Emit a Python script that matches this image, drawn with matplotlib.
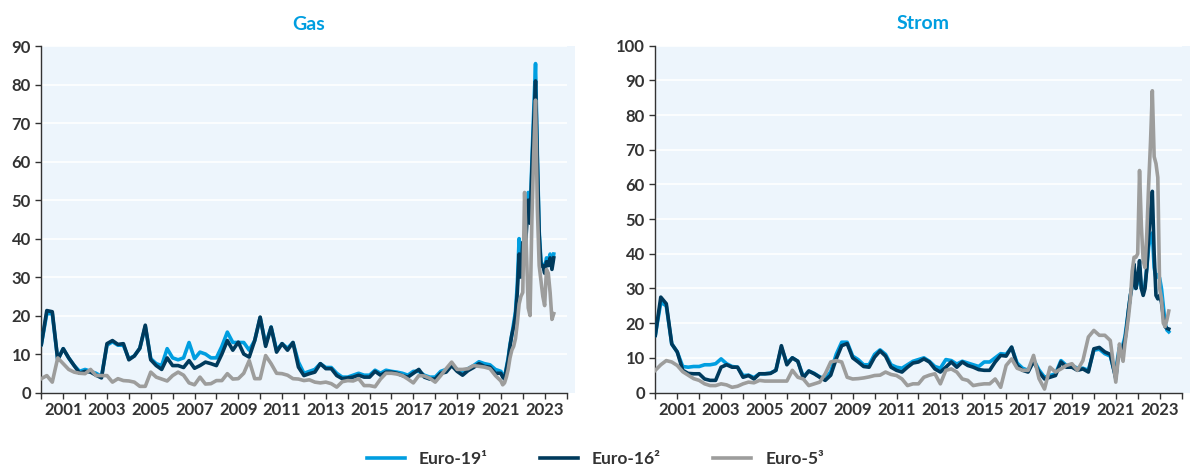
import matplotlib.pyplot as plt

# quarterly points 2000-2020, monthly from Jan 2021 to Jun 2023
quarters = [2000 + i * 0.25 for i in range(84)]
months = [2021 + i / 12 for i in range(30)]
dates = quarters + months

gas_euro19 = [12.5, 20.5, 20.5, 8.5, 11.4, 9.0, 7.0, 5.5, 6.0, 5.5, 5.0, 4.2,
              12.3, 13.2, 12.3, 12.3, 8.8, 9.5, 11.5, 17.2, 8.8, 7.5, 7.0, 11.4,
              9.0, 8.5, 9.0, 13.0, 8.8, 10.5, 10.0, 9.0, 9.0, 12.0, 15.7, 13.0,
              13.0, 13.0, 11.0, 13.5, 19.5, 12.5, 17.0, 11.0, 12.7, 11.5, 13.0, 7.9,
              5.0, 5.5, 6.0, 7.5, 6.5, 6.5, 5.0, 4.0, 4.0, 4.5, 5.0, 4.5,
              4.5, 5.8, 5.0, 5.8, 5.5, 5.3, 5.0, 4.5, 5.5, 5.5, 4.5, 4.0,
              4.0, 5.5, 6.0, 7.2, 6.0, 5.5, 6.2, 7.0, 8.0, 7.5, 7.2, 6.0,
              5.5, 4.5, 4.0, 6.5, 9.0, 12.5, 15.0, 18.0, 21.0, 28.0, 40.0, 33.0,
              39.0, 38.0, 45.0, 52.0, 45.0, 60.0, 73.0, 85.5, 62.0, 42.0, 34.0, 33.0,
              32.0, 35.0, 34.0, 36.0, 33.0, 36.0]
gas_euro16 = [12.5, 21.3, 21.0, 8.5, 11.4, 9.0, 7.0, 5.0, 5.5, 5.3, 4.5, 3.8,
              12.7, 13.5, 12.5, 12.7, 8.5, 9.5, 11.5, 17.5, 8.5, 7.0, 6.0, 9.0,
              7.0, 7.0, 6.5, 8.3, 6.3, 7.0, 7.9, 7.5, 7.0, 10.0, 13.5, 11.0,
              13.1, 10.0, 9.2, 13.5, 19.6, 12.0, 17.0, 10.5, 12.7, 11.0, 13.0, 6.6,
              4.4, 4.9, 5.3, 7.5, 6.2, 6.2, 4.4, 3.6, 3.8, 4.0, 4.5, 4.0,
              4.0, 5.5, 4.5, 5.3, 5.3, 5.0, 4.4, 4.0, 5.0, 6.0, 4.0, 3.5,
              3.5, 5.0, 5.3, 7.0, 5.5, 4.5, 5.7, 6.5, 7.5, 6.8, 6.6, 5.0,
              5.0, 4.0, 3.5, 6.0, 8.5, 12.0, 15.0, 17.0, 20.0, 26.0, 36.0, 30.0,
              39.0, 35.0, 42.0, 50.0, 44.0, 58.0, 70.0, 81.0, 60.0, 41.0, 33.0, 33.0,
              31.0, 34.0, 33.0, 35.0, 32.0, 35.0]
gas_euro5 = [3.6, 4.4, 2.7, 9.0, 7.5, 6.0, 5.3, 5.0, 4.9, 6.0, 4.4, 4.4,
             4.4, 2.7, 3.6, 3.1, 3.0, 2.7, 1.6, 1.6, 5.3, 4.0, 3.5, 3.0,
             4.4, 5.3, 4.5, 2.5, 2.0, 4.0, 2.2, 2.3, 3.1, 3.1, 4.9, 3.5,
             3.6, 5.0, 8.3, 3.6, 3.6, 9.6, 7.5, 5.0, 4.9, 4.5, 3.6, 3.5,
             3.1, 3.3, 2.7, 2.5, 2.7, 2.3, 1.4, 2.8, 3.1, 3.0, 3.6, 1.8,
             1.8, 1.5, 3.5, 5.0, 5.0, 4.8, 4.4, 3.5, 2.5, 4.4, 4.3, 3.7,
             2.7, 4.4, 6.2, 7.9, 6.0, 6.0, 6.2, 7.0, 6.8, 6.6, 6.2, 4.4,
             3.0, 2.0, 2.5, 4.0, 6.0, 9.0, 11.0, 12.0, 14.0, 18.0, 23.0, 25.0,
             26.0, 52.0, 37.0, 22.0, 20.0, 45.0, 62.0, 76.0, 48.0, 33.0, 29.0, 25.0,
             22.6, 32.0, 31.0, 26.0, 19.0, 20.5]

strom_euro19 = [16.5, 26.0, 25.0, 14.0, 11.7, 7.5, 7.3, 7.5, 7.5, 8.0, 8.0, 8.3,
                9.7, 8.3, 7.5, 7.3, 4.9, 5.0, 4.3, 5.4, 5.4, 5.6, 6.4, 13.0,
                8.5, 10.0, 9.0, 4.5, 6.2, 5.5, 4.5, 4.0, 6.0, 11.0, 14.5, 14.5,
                10.5, 9.5, 8.0, 8.0, 11.0, 12.3, 11.0, 8.0, 7.3, 7.0, 8.0, 9.0,
                9.5, 10.0, 9.0, 7.5, 7.0, 9.5, 9.2, 8.2, 9.0, 8.5, 8.0, 7.5,
                8.8, 8.8, 10.0, 11.2, 11.0, 13.0, 8.5, 7.0, 6.4, 9.5, 6.5, 4.4,
                4.9, 5.4, 9.2, 7.8, 7.8, 7.0, 7.0, 6.4, 12.2, 12.5, 11.2, 10.5,
                4.5, 10.0, 13.0, 12.0, 14.0, 16.0, 20.0, 24.0, 28.0, 31.0, 34.0, 30.0,
                32.0, 36.0, 30.0, 29.0, 31.0, 36.0, 42.0, 45.0, 46.0, 36.0, 33.0, 34.0,
                33.0, 30.0, 25.0, 20.0, 18.0, 17.5]
strom_euro16 = [16.5, 27.5, 25.6, 14.0, 11.7, 6.4, 5.5, 5.4, 5.4, 3.9, 3.5, 3.5,
                7.3, 8.0, 7.3, 7.3, 4.4, 4.9, 3.9, 5.4, 5.4, 5.5, 6.4, 13.5,
                8.0, 10.0, 9.0, 4.2, 6.2, 5.4, 4.4, 3.5, 5.0, 9.7, 13.5, 14.1,
                10.0, 8.8, 7.5, 7.3, 10.2, 12.0, 10.5, 7.3, 6.4, 5.9, 7.3, 8.5,
                8.8, 9.7, 8.8, 6.8, 5.9, 7.3, 8.8, 7.3, 8.8, 7.8, 7.3, 6.6,
                6.4, 6.4, 8.8, 10.7, 10.5, 13.1, 7.8, 6.4, 5.9, 9.0, 5.9, 3.9,
                4.4, 4.9, 8.8, 7.3, 7.3, 6.4, 6.8, 5.9, 12.6, 13.0, 11.7, 11.0,
                4.0, 9.0, 12.0, 11.0, 13.0, 15.0, 19.0, 24.0, 28.0, 31.0, 37.0, 30.0,
                33.0, 38.0, 30.0, 28.0, 30.0, 36.0, 45.0, 52.0, 58.0, 40.0, 28.0, 27.0,
                28.0, 26.0, 22.0, 19.0, 18.5, 18.3]
strom_euro5 = [6.4, 8.0, 9.2, 8.8, 7.8, 6.0, 5.0, 4.0, 3.5, 2.5, 2.0, 2.0,
               2.5, 2.2, 1.5, 1.8, 2.5, 3.0, 2.8, 3.5, 3.3, 3.3, 3.3, 3.3,
               3.3, 6.4, 4.4, 3.9, 2.0, 2.5, 3.0, 5.4, 8.8, 9.2, 8.8, 4.4,
               3.9, 4.0, 4.2, 4.5, 4.9, 5.0, 5.9, 5.2, 4.9, 3.9, 2.0, 2.5,
               2.5, 4.4, 5.0, 5.4, 2.5, 6.4, 6.8, 5.9, 3.9, 3.5, 2.0, 2.3,
               2.5, 2.5, 3.9, 1.5, 7.8, 9.7, 7.0, 6.4, 6.4, 10.7, 4.0, 1.0,
               7.3, 5.9, 6.8, 7.8, 8.3, 6.4, 9.2, 16.0, 17.9, 16.5, 16.5, 15.0,
               3.0, 8.0, 14.0, 11.0, 9.0, 14.0, 18.0, 22.0, 27.0, 35.0, 39.0, 39.0,
               40.0, 64.0, 48.0, 38.0, 36.0, 46.0, 60.0, 72.0, 87.0, 68.0, 66.0, 62.0,
               30.0, 27.0, 20.0, 19.0, 21.0, 23.5]

year_ticks = list(range(2000, 2025))
year_labels = [str(y) if y % 2 == 1 else "" for y in year_ticks]

c19 = "#009ee0"
c16 = "#003a5c"
c5 = "#9d9d9c"
bg = "#edf5fc"
txt = "#333333"

plt.rcParams['font.family'] = ['Lato', 'DejaVu Sans']

fig = plt.figure(figsize=(11.98, 4.68), dpi=100)
ax1 = fig.add_axes([0.0345, 0.1613, 0.4457, 0.7398])
ax2 = fig.add_axes([0.547, 0.1613, 0.4466, 0.7411])

panels = [
    (ax1, "Gas", gas_euro19, gas_euro16, gas_euro5, 90),
    (ax2, "Strom", strom_euro19, strom_euro16, strom_euro5, 100),
]

for ax, title, s19, s16, s5, ymax in panels:
    ax.set_facecolor(bg)
    yt = list(range(0, ymax + 1, 10))
    ax.hlines(yt[1:], 2000, 2024, color="white", lw=1.2, zorder=1)
    l1, = ax.plot(dates, s19, color=c19, lw=2.6, zorder=3, solid_joinstyle="round")
    l2, = ax.plot(dates, s16, color=c16, lw=2.6, zorder=4, solid_joinstyle="round")
    l3, = ax.plot(dates, s5, color=c5, lw=2.6, zorder=5, solid_joinstyle="round")
    ax.set_xlim(2000, 2024.4)
    ax.set_ylim(0, ymax)
    ax.set_yticks(yt)
    ax.set_xticks(year_ticks)
    ax.set_xticklabels(year_labels)
    for s in ["top", "right"]:
        ax.spines[s].set_visible(False)
    for s in ["left", "bottom"]:
        ax.spines[s].set_color(txt)
        ax.spines[s].set_linewidth(1)
    ax.spines["bottom"].set_bounds(2000, 2024)
    ax.tick_params(colors=txt, labelsize=12, length=4, width=1)
    ax.tick_params(axis="x", pad=3)
    for lab in ax.get_xticklabels() + ax.get_yticklabels():
        lab.set_fontweight("bold")
    ax.set_title(title, color=c19, fontsize=14, fontweight="bold", pad=12)

fig.legend([l1, l2, l3], ["Euro-19¹", "Euro-16²", "Euro-5³"], loc="lower center",
           bbox_to_anchor=(0.497, -0.032), ncol=3, frameon=False, handlelength=2.2,
           columnspacing=3.0, prop={"size": 12.5, "weight": "bold"},
           labelcolor=txt)

fig.savefig("out.png", dpi=100)
